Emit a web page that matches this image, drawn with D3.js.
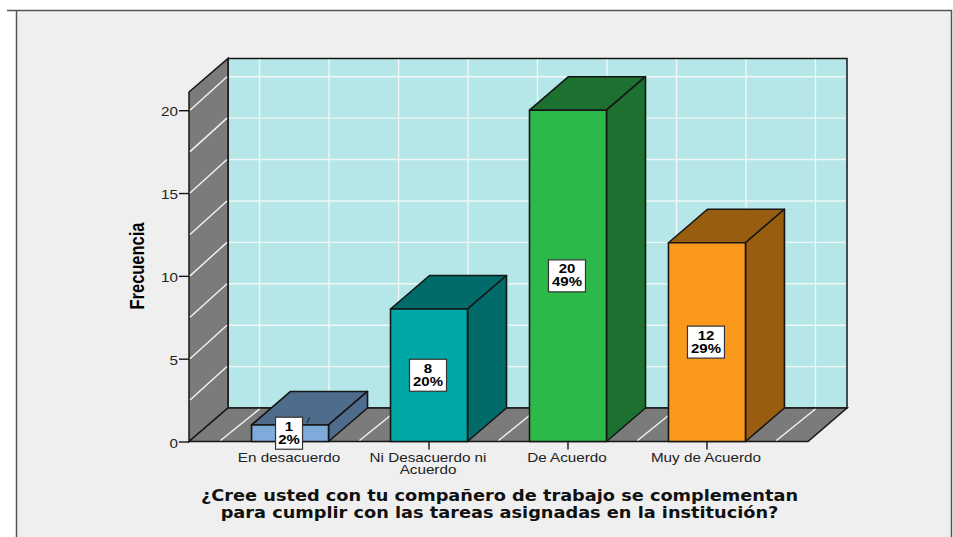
<!DOCTYPE html>
<html><head><meta charset="utf-8">
<script src="https://cdn.jsdelivr.net/npm/d3@7/dist/d3.min.js"></script>
<style>html,body{margin:0;padding:0;background:#fff}svg{display:block}</style>
</head><body><svg id="c" width="953" height="537"></svg>
<script>
const categories = ["En desacuerdo","Ni Desacuerdo ni|Acuerdo","De Acuerdo","Muy de Acuerdo"];
const counts = [1,8,20,12];
const percents = [2,20,49,29];
const yTicks = [0,5,10,15,20];
const titleLines = ["¿Cree usted con tu compañero de trabajo se complementan","para cumplir con las tareas asignadas en la institución?"];
const axisTitle = "Frecuencia";
const frontColors = ["#7fabdb","#00a8a5","#2db84a","#fb991c"];
const darkColors = ["#4f6c8d","#006b69","#1c7030","#995d10"];

const svg = d3.select("#c");
const W=953,H=537, DX=39, DY=33.5, INK="#161616";
const x = d3.scaleBand().domain(categories).range([189,808]).paddingInner(0.446).paddingOuter(0.45);
const y = d3.scaleLinear().domain([0,21.1]).range([441.5,92]);
const x0=189,x1=808,y0=y(0),yT=y(21.1);

// panel
svg.append("rect").attr("x",16).attr("y",10).attr("width",935).attr("height",H).attr("fill","#efefef");
svg.append("path").attr("d",`M7,10.5H951.5V${H}M16.5,10.5V${H}`).attr("fill","none").attr("stroke","#555").attr("stroke-width",1.5);

// walls
const poly=(pts,fill,stroke=INK,sw=1.5)=>svg.append("polygon").attr("points",pts.map(p=>p.join(",")).join(" ")).attr("fill",fill).attr("stroke",stroke).attr("stroke-width",sw);
poly([[x0+DX,yT-DY],[x1+DX,yT-DY],[x1+DX,y0-DY],[x0+DX,y0-DY]],"#b5e7e8");
poly([[x0,yT],[x0+DX,yT-DY],[x0+DX,y0-DY],[x0,y0]],"#7b7b7b");
poly([[x0,y0],[x0+DX,y0-DY],[x1+DX,y0-DY],[x1,y0]],"#7b7b7b");

// gridlines
const grid = svg.append("g").attr("stroke","#f2f5f5").attr("stroke-width",1.4).attr("fill","none");
const step=x.step(), bw=x.bandwidth();
const gridX=[x(categories[0])+bw/2-step/2];
categories.forEach(c=>{gridX.push(x(c)+bw/2);gridX.push(x(c)+bw/2+step/2);});
gridX.forEach(g=>{
  grid.append("line").attr("x1",g+DX).attr("x2",g+DX).attr("y1",yT-DY+1).attr("y2",y0-DY-1);
  grid.append("line").attr("x1",g).attr("x2",g+DX).attr("y1",y0-1).attr("y2",y0-DY+1);
});
d3.range(2.5,21,2.5).forEach(v=>{
  grid.append("line").attr("x1",x0+DX+1).attr("x2",x1+DX-1).attr("y1",y(v)-DY).attr("y2",y(v)-DY);
  grid.append("line").attr("x1",x0+1).attr("x2",x0+DX-1).attr("y1",y(v)).attr("y2",y(v)-DY);
});

// the reference is widened horizontally
const SX=1.22;
// y axis
const yAxis=svg.append("g").attr("transform",`translate(${x0},0)`).call(d3.axisLeft(y).tickValues(yTicks).tickSize(10).tickPadding(1));
yAxis.select(".domain").remove();
yAxis.selectAll("line").attr("stroke",INK).attr("stroke-width",1.4);
yAxis.selectAll("text").attr("fill","#222").style("font","12.5px 'Liberation Sans'")
  .attr("x",null).attr("dy",null).attr("text-anchor","end").attr("transform",`translate(-11,5.5) scale(${SX},1)`);

// x axis
const xAxis=svg.append("g").attr("transform",`translate(0,${y0})`).call(d3.axisBottom(x).tickSize(8).tickFormat(""));
xAxis.select(".domain").remove();
xAxis.selectAll("line").attr("stroke",INK).attr("stroke-width",1.4);
xAxis.selectAll(".tick").each(function(c){
  c.split("|").forEach((t,i)=>{
    d3.select(this).append("text").attr("text-anchor","middle").attr("fill","#222")
      .style("font","12.5px 'Liberation Sans'")
      .attr("transform",`translate(-1,${20+i*12.5}) scale(${SX},1)`).text(t);
  });
});

// bars
const rows=categories.map((c,i)=>({c,v:counts[i],p:percents[i],f:frontColors[i],d:darkColors[i]}));
const bars=svg.append("g").selectAll("g").data(rows).join("g");
bars.each(function(d){
  const g=d3.select(this), l=x(d.c), r=l+bw, t=y(d.v);
  const P=(pts,fill)=>g.append("polygon").attr("points",pts.map(p=>p.join(",")).join(" ")).attr("fill",fill).attr("stroke",INK).attr("stroke-width",1.6).attr("stroke-linejoin","round");
  P([[l,t],[l+DX,t-DY],[r+DX,t-DY],[r,t]],d.d);
  P([[r,t],[r+DX,t-DY],[r+DX,y0-DY],[r,y0]],d.d);
  P([[l,t],[r,t],[r,y0],[l,y0]],d.f);
});
// labels
const labels=svg.append("g").selectAll("g").data(rows).join("g")
  .attr("transform",d=>`translate(${x(d.c)+bw/2-1},${(y(d.v)+y0)/2})`);
labels.each(function(d){
  const g=d3.select(this), w=d.p>=10?37:27;
  if(d.v<2) g.append("line").attr("x1",18).attr("y1",-10).attr("x2",20.5).attr("y2",-16).attr("stroke","#222").attr("stroke-width",1);
  g.append("rect").attr("x",-w/2).attr("y",-16).attr("width",w).attr("height",32).attr("fill","#fff").attr("stroke","#333").attr("stroke-width",1.2);
  [d.v,d.p+"%"].forEach((t,i)=>g.append("text").attr("text-anchor","middle").attr("fill","#000")
     .style("font","bold 12.5px 'Liberation Sans'")
     .attr("transform",`translate(0,${-2.5+i*13}) scale(1.2,1)`).text(t));
});

// axis title
svg.append("text").attr("transform","translate(144,266) rotate(-90) scale(1,1.22)")
  .attr("text-anchor","middle").attr("fill","#000").style("font","bold 16.5px 'Liberation Sans'").text(axisTitle);

// x title
svg.append("g").selectAll("text").data(titleLines).join("text")
  .attr("transform",(d,i)=>`translate(499.5,${500.5+i*17}) scale(1.16,1)`).attr("text-anchor","middle").attr("fill","#111")
  .style("font","bold 15.3px 'DejaVu Sans'").text(d=>d);
</script></body></html>
